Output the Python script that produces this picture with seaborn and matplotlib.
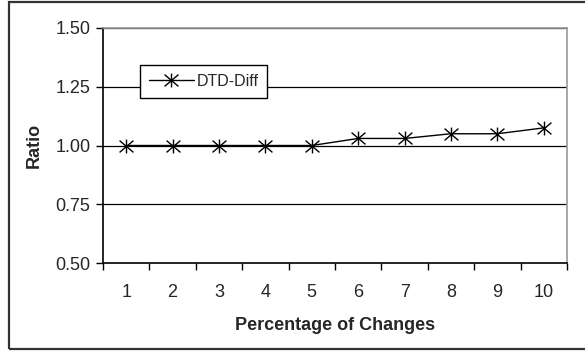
import matplotlib
matplotlib.use("Agg")
import matplotlib.pyplot as plt
import seaborn as sns
import pandas as pd
from matplotlib.patches import Rectangle
from matplotlib.path import Path

categories = [1, 2, 3, 4, 5, 6, 7, 8, 9, 10]
ratio = [1.00, 1.00, 1.00, 1.00, 1.00, 1.03, 1.03, 1.05, 1.05, 1.075]
series_name = "DTD-Diff"
y_ticks = [0.50, 0.75, 1.00, 1.25, 1.50]

sns.set_theme(style="white")
plt.rcParams['font.family'] = ['Liberation Sans', 'DejaVu Sans']

df = pd.DataFrame({"x": categories, "y": ratio, "s": series_name})

# Excel-style asterisk: an X plus a vertical stroke
star = Path([(-1, -0.85), (1, 0.85), (-1, 0.85), (1, -0.85), (0, -1), (0, 1)],
            [Path.MOVETO, Path.LINETO, Path.MOVETO, Path.LINETO, Path.MOVETO, Path.LINETO])

W, H = 585, 351
fig = plt.figure(figsize=(W / 100, H / 100), dpi=100)
ax = fig.add_axes([103 / W, 1 - 263 / H, (567 - 103) / W, (263 - 28) / H])

sns.lineplot(data=df, x="x", y="y", hue="s", palette=["black"], ax=ax,
             marker=star, markersize=10, markeredgewidth=1.0,
             markeredgecolor="black", markerfacecolor="none", linewidth=1.0)

ax.set_xlim(0.5, 10.5)
ax.set_ylim(0.5, 1.5)
ax.set_yticks(y_ticks)
ax.set_yticklabels([f"{v:.2f}" for v in y_ticks], fontsize=13)
ax.set_xticks(categories)
ax.set_xticklabels([str(c) for c in categories], fontsize=13)
ax.set_xticks([c - 0.5 for c in categories] + [10.5], minor=True)
ax.tick_params(axis="x", which="major", length=0, pad=15)
ax.tick_params(axis="x", which="minor", length=5, width=1, color="black", direction="out", bottom=True)
ax.tick_params(axis="y", which="major", length=5, width=1, color="black", direction="out", left=True, pad=4)

for v in y_ticks[1:]:
    ax.axhline(v, color="black", linewidth=0.9, zorder=0)

ax.spines["left"].set_color("black")
ax.spines["bottom"].set_color("black")
ax.spines["left"].set_linewidth(1.2)
ax.spines["bottom"].set_linewidth(1.2)
ax.spines["right"].set_color("#999999")
ax.spines["top"].set_color("#999999")
ax.spines["right"].set_linewidth(1.2)
ax.spines["top"].set_linewidth(1.2)

ax.set_xlabel("Percentage of Changes", fontsize=13, fontweight="bold", labelpad=12)
ax.set_ylabel("Ratio", fontsize=13, fontweight="bold", labelpad=9)

leg = ax.legend(loc="upper left", bbox_to_anchor=((140 - 103) / (567 - 103), 1 - (65 - 28) / (263 - 28)),
                frameon=True, fancybox=False, fontsize=11.5, handlelength=2.8,
                borderpad=0.55, handletextpad=0.2, borderaxespad=0)
leg.get_frame().set_edgecolor("black")
leg.get_frame().set_linewidth(1.0)
leg.get_frame().set_facecolor("white")
leg.get_frame().set_alpha(1)

fig.patches.append(Rectangle((9 / W, 2 / H), 1.2, 1 - 4 / H, transform=fig.transFigure,
                             fill=False, edgecolor="#333333", linewidth=1.6))

fig.savefig("out.png", dpi=100)
